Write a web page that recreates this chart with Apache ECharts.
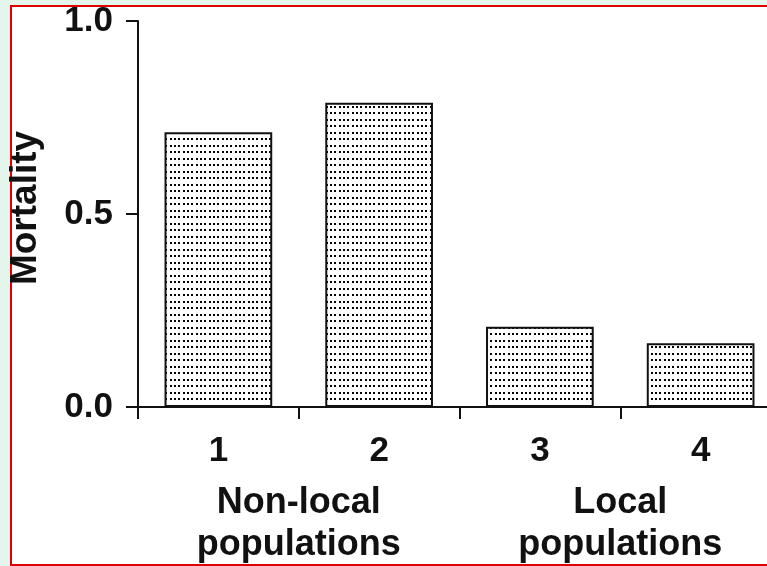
<!DOCTYPE html>
<html>
<head>
<meta charset="utf-8">
<script src="https://cdn.jsdelivr.net/npm/echarts@6/dist/echarts.min.js"></script>
<style>
html,body{margin:0;padding:0;background:#e4f5ec;}
#chart{width:767px;height:566px;}
</style>
</head>
<body>
<div id="chart"></div>
<script>
// ---- data ----
const categories = ['1', '2', '3', '4'];
const mortality = [0.712, 0.788, 0.208, 0.165];
const groupLabels = ['Non-local\npopulations', 'Local\npopulations'];
const yTicks = [0, 0.5, 1.0];
const yAxisTitle = 'Mortality';

// ---- dotted pattern ----
function makePattern() {
  const c = document.createElement('canvas');
  c.width = 13; c.height = 13;
  const ctx = c.getContext('2d');
  ctx.fillStyle = '#ffffff';
  ctx.fillRect(0, 0, 13, 13);
  ctx.fillStyle = '#000000';
  const xs = [1, 5, 9];
  const ys = [2, 8];
  ys.forEach(y => xs.forEach(x => ctx.fillRect(x, y, 2, 2)));
  return c;
}

const font = '"Liberation Sans", Arial, Helvetica, sans-serif';
const chart = echarts.init(document.getElementById('chart'), null, {renderer: 'canvas'});
chart.setOption({
  backgroundColor: '#e4f5ec',
  animation: false,
  graphic: [{
    type: 'rect', z: -10, silent: true,
    shape: {x: 11, y: 6, width: 800, height: 559},
    style: {fill: '#ffffff', stroke: '#dd0000', lineWidth: 2}
  }],
  grid: {left: 138, top: 21, bottom: 159, width: 643, containLabel: false, outerBoundsMode: 'none'},
  xAxis: [{
    type: 'category',
    data: categories,
    position: 'bottom',
    axisLine: {show: true, lineStyle: {color: '#111', width: 2}},
    axisTick: {show: true, length: 12, lineStyle: {color: '#111', width: 2}},
    axisLabel: {color: '#111', fontFamily: font, fontWeight: 'bold', fontSize: 35, margin: 27, lineHeight: 35},
    splitLine: {show: false}
  }, {
    type: 'category',
    data: groupLabels,
    position: 'bottom',
    offset: 0,
    gridIndex: 0,
    axisLine: {show: false},
    axisTick: {show: false},
    axisLabel: {color: '#111', fontFamily: font, fontWeight: 'bold', fontSize: 36, margin: 75, lineHeight: 42, interval: 0},
    splitLine: {show: false}
  }],
  yAxis: {
    type: 'value',
    min: 0, max: 1, interval: 0.5,
    name: yAxisTitle,
    nameLocation: 'middle',
    nameGap: 94,
    nameTextStyle: {color: '#111', fontFamily: font, fontWeight: 'bold', fontSize: 37, padding: [0, 0, 0, 12]},
    axisLine: {show: true, lineStyle: {color: '#111', width: 2}},
    axisTick: {show: true, length: 12, lineStyle: {color: '#111', width: 2}},
    axisLabel: {color: '#111', fontFamily: font, fontWeight: 'bold', fontSize: 35, margin: 25,
      formatter: v => v.toFixed(1)},
    splitLine: {show: false}
  },
  series: [{
    type: 'bar',
    xAxisIndex: 0,
    data: mortality,
    barWidth: '67%',
    itemStyle: {
      color: {image: makePattern(), repeat: 'repeat'},
      borderColor: '#111',
      borderWidth: 2
    }
  }]
});
</script>
</body>
</html>
